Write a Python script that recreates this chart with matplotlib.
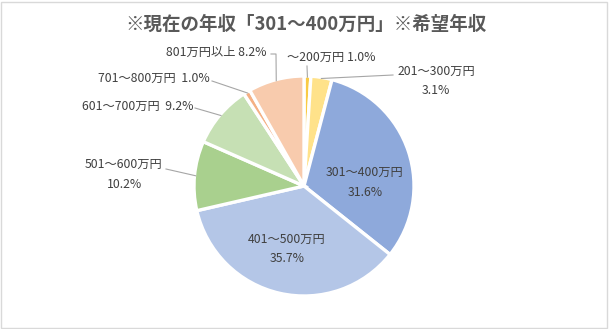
import numpy as np
import matplotlib.pyplot as plt
from matplotlib.patches import Rectangle

plt.rcParams['font.family'] = ['Noto Sans CJK JP', 'DejaVu Sans']

# 希望年収の内訳（％）
labels = ['～200万円', '201～300万円', '301～400万円', '401～500万円',
          '501～600万円', '601～700万円', '701～800万円', '801万円以上']
values = [1.0, 3.1, 31.6, 35.7, 10.2, 9.2, 1.0, 8.2]
colors = ['#F9CB45', '#FFE28A', '#8EA9DB', '#B4C6E7',
          '#A9D08E', '#C6E0B4', '#F4B084', '#F8CBAD']
title = '※現在の年収「301～400万円」※希望年収'

W, H = 609, 329
fig = plt.figure(figsize=(W / 100, H / 100), dpi=100)
ax = fig.add_axes([0, 0, 1, 1])

cx, cy, r = 304, H - 186, 110
wedges, _ = ax.pie(values, colors=colors, startangle=90, counterclock=False,
                   center=(cx, cy), radius=r, frame=True,
                   wedgeprops=dict(edgecolor='white', linewidth=2.4))
ax.set_xlim(0, W)
ax.set_ylim(0, H)
ax.set_aspect('equal')
ax.axis('off')

# 外枠
ax.add_patch(Rectangle((1, 1), W - 3, H - 3, fill=False, edgecolor='#D9D9D9', lw=1))

ax.text(W / 2 + 1, H - 24, title, ha='center', va='center', fontsize=13.3,
        fontweight='bold', color='#595959')

txt = dict(fontsize=8.8, color='#404040')


def pct(v):
    return f'{v:.1f}%'


# 各扇形の中心角
mids = []
for w in wedges:
    mids.append(np.deg2rad((w.theta1 + w.theta2) / 2))


def edge(i, k=1.0):
    a = mids[i]
    return cx + r * k * np.cos(a), cy + r * k * np.sin(a)


def leader(i, pts):
    ex, ey = edge(i, 0.99)
    xs = [p[0] for p in pts] + [ex]
    ys = [H - p[1] for p in pts] + [ey]
    ax.plot(xs, ys, color='#A6A6A6', lw=0.8)


# 内側ラベル
for i, (px, py) in {2: (365, 182), 3: (287, 249)}.items():
    ax.text(px, H - py + 10, labels[i], ha='center', va='center', **txt)
    ax.text(px, H - py - 10, pct(values[i]), ha='center', va='center', **txt)

# 外側ラベル
ax.text(287, H - 57, f'{labels[0]} {pct(values[0])}', ha='left', va='center', **txt)
leader(0, [(307, 66)])

ax.text(436, H - 71, labels[1], ha='center', va='center', **txt)
ax.text(436, H - 91, pct(values[1]), ha='center', va='center', **txt)
leader(1, [(393, 75)])

ax.text(124, H - 164, labels[4], ha='center', va='center', **txt)
ax.text(124, H - 184, pct(values[4]), ha='center', va='center', **txt)
leader(4, [(166, 169)])

ax.text(194, H - 106, f'{labels[5]}  {pct(values[5])}', ha='right', va='center', **txt)
leader(5, [(195, 108)])

ax.text(210, H - 78, f'{labels[6]}  {pct(values[6])}', ha='right', va='center', **txt)
leader(6, [(212, 81)])

ax.text(266, H - 52, f'{labels[7]} {pct(values[7])}', ha='right', va='center', **txt)
leader(7, [(271, 54), (276, 54)])

fig.savefig('out.png', dpi=100, facecolor='white')
